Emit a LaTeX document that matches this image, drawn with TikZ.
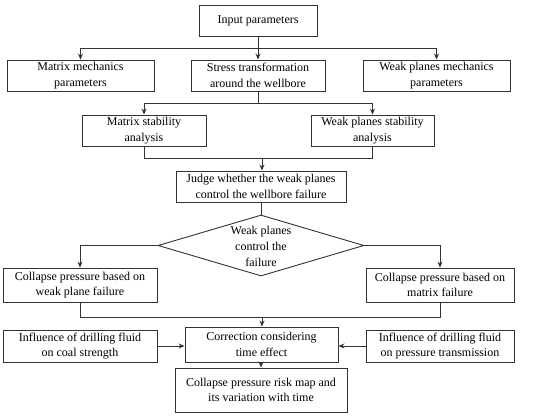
\documentclass[tikz,border=0pt]{standalone}
\usepackage{fontspec}
\setmainfont{Liberation Serif}
\usetikzlibrary{shapes.geometric,arrows.meta}
\begin{document}
\begin{tikzpicture}[x=1pt,y=-1pt,
  box/.style={draw=black!80, line width=0.9pt, inner sep=0pt, align=center,
    font=\fontsize{12}{15.5}\selectfont},
  conn/.style={draw=black!80, line width=0.9pt},
  arr/.style={conn, -{Stealth[length=6pt,width=5pt]}}]
\useasboundingbox (0,0) rectangle (550,420);
\node[box, minimum width=118pt, minimum height=31pt] (in) at (258,20.5) {Input parameters};
\node[box, minimum width=147pt, minimum height=31pt] (mm) at (80.5,75.5) {Matrix mechanics\\parameters};
\node[box, minimum width=134pt, minimum height=31pt] (st) at (258,75.5) {Stress transformation\\around the wellbore};
\node[box, minimum width=147pt, minimum height=31pt] (wm) at (436.5,75.5) {Weak planes mechanics\\parameters};
\node[box, minimum width=124pt, minimum height=31pt] (ms) at (144,130.5) {Matrix stability\\analysis};
\node[box, minimum width=123pt, minimum height=31pt] (ws) at (372.5,130.5) {Weak planes stability\\analysis};
\node[box, minimum width=170pt, minimum height=31pt] (ju) at (261,186.5) {Judge whether the weak planes\\control the wellbore failure};
\node[draw=black!80, line width=0.9pt, diamond, inner sep=0pt, minimum width=206pt, minimum height=61pt] (di) at (261,245.5) {};
\node[align=center, inner sep=0pt, font=\fontsize{12}{16}\selectfont] (dt) at (261,246) {Weak planes\\control the\\failure};
\node[box, minimum width=154pt, minimum height=34pt] (cw) at (80,285) {Collapse pressure based on\\weak plane failure};
\node[box, minimum width=148pt, minimum height=34pt] (cm) at (440,285) {Collapse pressure based on\\matrix failure};
\node[box, minimum width=154pt, minimum height=32pt] (ic) at (80,346) {Influence of drilling fluid\\on coal strength};
\node[box, minimum width=153pt, minimum height=35pt] (co) at (261.5,344.5) {Correction considering\\time effect};
\node[box, minimum width=148pt, minimum height=32pt] (ip) at (440,346) {Influence of drilling fluid\\on pressure transmission};
\node[box, minimum width=172pt, minimum height=44pt] (cr) at (261,390) {Collapse pressure risk map and\\its variation with time};
\coordinate (b1) at (258,48);
\coordinate (b2) at (258,103);
\coordinate (b3) at (262,158);
\coordinate (b4) at (262,317);
\draw[conn] (in) -- (b1);
\draw[arr] (b1) -| (mm);
\draw[arr] (b1) -| (wm);
\draw[arr] (b1) -- (st);
\draw[conn] (st) -- (b2);
\draw[arr] (b2) -| (ms);
\draw[arr] (b2) -| (ws);
\draw[conn] (ms) |- (b3);
\draw[conn] (ws) |- (b3);
\draw[arr] (b3) -- (b3 |- ju.north);
\draw[conn] (ju.south -| di.north) -- (di.north);
\draw[arr] (di.west) -| (cw);
\draw[arr] (di.east) -| (cm);
\draw[conn] (cw) |- (b4);
\draw[conn] (cm) |- (b4);
\draw[arr] (b4) -- (b4 |- co.north);
\draw[arr] (ic.east) -- (ic.east -| co.west);
\draw[arr] (ip.west) -- (ip.west -| co.east);
\draw[arr] (co.south -| cr.north) -- (cr);
\end{tikzpicture}
\end{document}
